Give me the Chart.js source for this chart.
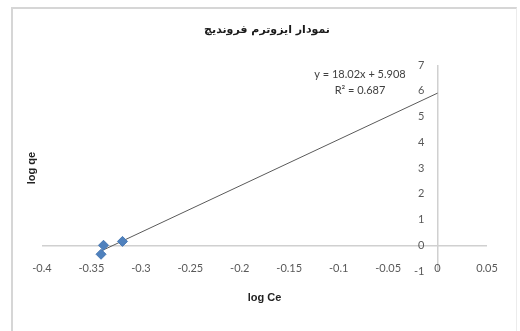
<!DOCTYPE html>
<html>
<head>
<meta charset="utf-8">
<script src="https://cdn.jsdelivr.net/npm/chart.js@4"></script>
<style>
  html, body { margin: 0; padding: 0; background: #fff; }
  #wrap { position: relative; width: 520px; height: 331px; overflow: hidden; }
  #frame { position: absolute; left: 11px; top: 7px; width: 503px; height: 340px;
           border-top: 2px solid #d6d6d6; border-left: 2px solid #d6d6d6; border-right: 1px solid #ececec; }
  canvas { position: absolute; left: 0; top: 0; }
</style>
</head>
<body>
<div id="wrap">
  <div id="frame"></div>
  <canvas id="c" width="520" height="331"></canvas>
</div>
<script>
// Measured points: log Ce against log qe
const logCe = [-0.3403, -0.3378, -0.3186];
const logQe = [-0.35, 0.00, 0.15];

// Linear trendline reported on the chart
const trendSlope = 18.02;
const trendIntercept = 5.908;
const trendEndX = 0;

// Axis ranges and steps
const xRange = [-0.4, 0.05];
const xStep = 0.05;
const yRange = [-1, 7];
const yStep = 1;

const chartTitle = 'نمودار ایزوترم فروندیچ';
const equationLines = ['y = 18.02x + 5.908', 'R² = 0.687'];

const points = logCe.map((x, i) => ({ x: x, y: logQe[i] }));
const trendStartX = Math.min(...logCe);
const trend = [trendStartX, trendEndX].map(x => ({ x: x, y: trendSlope * x + trendIntercept }));

const AXIS_GRAY = '#d0d0d0';
const TICK_FONT = { family: 'Lato', size: 11 };
const isZero = ctx => ctx.tick && Math.abs(ctx.tick.value) < 1e-9;
const shortNum = v => String(Number(Number(v).toFixed(2)));

// Title and trendline equation text
const textPlugin = {
  id: 'textPlugin',
  afterDraw(chart) {
    const ctx = chart.ctx;
    ctx.save();
    ctx.textAlign = 'center';
    ctx.textBaseline = 'middle';
    ctx.fillStyle = '#1a1a1a';
    ctx.font = 'bold 11px "DejaVu Sans"';
    ctx.fillText(chartTitle, 267, 30);
    ctx.fillStyle = '#404040';
    ctx.font = '11px Lato';
    ctx.fillText(equationLines[0], 360, 74);
    ctx.fillText(equationLines[1], 360, 90);
    ctx.restore();
  }
};

new Chart(document.getElementById('c'), {
  type: 'scatter',
  data: {
    datasets: [
      {
        label: 'log qe',
        data: points,
        xAxisID: 'x', yAxisID: 'y',
        pointStyle: 'rectRot',
        pointRadius: 5,
        backgroundColor: '#4f81bd',
        borderColor: '#4677b3',
        borderWidth: 1,
        order: 1
      },
      {
        label: 'trend',
        type: 'line',
        data: trend,
        xAxisID: 'x', yAxisID: 'y',
        borderColor: '#5a5a5a',
        borderWidth: 1,
        pointRadius: 0,
        fill: false,
        order: 2
      }
    ]
  },
  options: {
    responsive: false,
    animation: false,
    layout: { padding: { top: 65, right: 33, left: 0, bottom: 0 } },
    plugins: { legend: { display: false }, tooltip: { enabled: false }, title: { display: false } },
    scales: {
      // value axis: labels sit just left of the x = 0 line
      y: {
        type: 'linear',
        position: { x: -0.0132 },
        min: yRange[0], max: yRange[1],
        ticks: { stepSize: yStep, color: '#595959', font: TICK_FONT, padding: 0, callback: shortNum },
        grid: { color: ctx => isZero(ctx) ? AXIS_GRAY : 'rgba(0,0,0,0)', drawTicks: false, lineWidth: 1.5 },
        border: { display: false }
      },
      // horizontal axis: labels on the lower row, vertical line at x = 0
      x: {
        type: 'linear',
        position: { y: -0.66 },
        min: xRange[0], max: xRange[1],
        ticks: { stepSize: xStep, color: '#595959', font: TICK_FONT, padding: 0, maxRotation: 0, autoSkip: false, callback: shortNum },
        grid: { color: ctx => isZero(ctx) ? AXIS_GRAY : 'rgba(0,0,0,0)', drawTicks: false, lineWidth: 1.5 },
        border: { display: false }
      },
      xt: {
        type: 'linear',
        position: 'bottom',
        ticks: { display: false },
        grid: { display: false },
        border: { display: false },
        title: { display: true, text: 'log Ce', color: '#222', font: { family: 'Liberation Sans', size: 11, weight: 'bold' }, padding: { top: 0, bottom: 26 } },
        afterFit(s) { s.height = 60; }
      },
      yt: {
        type: 'linear',
        position: 'left',
        ticks: { display: false },
        grid: { display: false },
        border: { display: false },
        title: { display: true, text: 'log qe', color: '#222', font: { family: 'Liberation Sans', size: 11, weight: 'bold' }, padding: { top: 25, bottom: 0 } },
        afterFit(s) { s.width = 42; }
      }
    }
  },
  plugins: [textPlugin]
});
</script>
</body>
</html>
